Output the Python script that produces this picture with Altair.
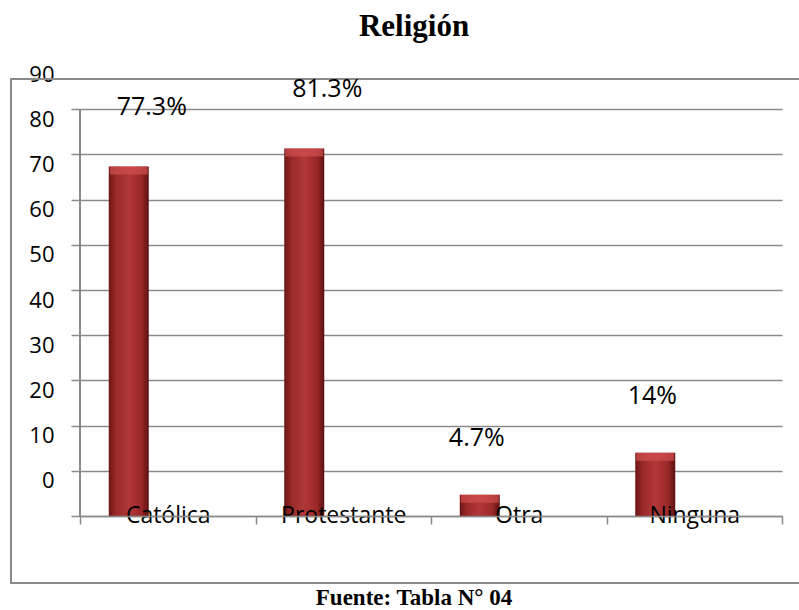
import altair as alt
import pandas as pd

categories = ["Católica", "Protestante", "Otra", "Ninguna"]
values = [77.3, 81.3, 4.7, 14.0]
labels = ["77.3%", "81.3%", "4.7%", "14%"]
y_ticks = [0, 10, 20, 30, 40, 50, 60, 70, 80, 90, 100]

df = pd.DataFrame({"cat": categories, "val": values, "lab": labels})

GRAY = "#8a8a8a"
FONT = "Open Sans"

x_enc = alt.X(
    "cat:N",
    sort=categories,
    scale=alt.Scale(paddingInner=0, paddingOuter=0),
    axis=alt.Axis(
        title=None, labelAngle=0, tickBand="extent", tickSize=8,
        domainColor=GRAY, tickColor=GRAY, domainWidth=1.5, tickWidth=1.5,
        labelFont=FONT, labelFontSize=23, labelColor="black",
        labelBaseline="alphabetic", labelPadding=-2, zindex=1,
    ),
)
y_scale = alt.Scale(domain=[0, 100], nice=False, zero=True)

gradient = alt.Gradient(
    gradient="linear", x1=0, x2=1, y1=0, y2=0,
    stops=[
        alt.GradientStop(color="#6a1515", offset=0),
        alt.GradientStop(color="#9a2a2a", offset=0.18),
        alt.GradientStop(color="#b03838", offset=0.5),
        alt.GradientStop(color="#9a2828", offset=0.82),
        alt.GradientStop(color="#5a1010", offset=1),
    ],
)

base = alt.Chart(df)

bars = base.mark_bar(size=40, xOffset=-39, fill=gradient).encode(
    x=x_enc,
    y=alt.Y(
        "val:Q", scale=y_scale,
        axis=alt.Axis(
            title=None, values=y_ticks,
            labelExpr="datum.value < 10 ? '' : '' + (datum.value - 10)",
            labelOffset=10, labelPadding=17, tickSize=9,
            labelFont=FONT, labelFontSize=22, labelColor="black",
            domain=False,
            grid=True, gridWidth=1.5,
            gridColor={"condition": {"test": "datum.value >= 100", "value": "transparent"}, "value": GRAY},
            tickColor={"condition": {"test": "datum.value >= 100", "value": "transparent"}, "value": GRAY},
            tickWidth=1.5,
        ),
    ),
)

caps = base.mark_tick(size=38, thickness=8, xOffset=-39, yOffset=4, color="#d25050").encode(
    x=alt.X("cat:N", sort=categories),
    y=alt.Y("val:Q", scale=y_scale),
)

lab1 = base.transform_filter(
    alt.FieldOneOfPredicate(field="cat", oneOf=categories[:2])
).mark_text(dx=-16, dy=-60, font=FONT, fontSize=25, color="black", baseline="middle").encode(
    x=alt.X("cat:N", sort=categories), y=alt.Y("val:Q", scale=y_scale), text="lab:N"
)
lab2 = base.transform_filter(
    alt.FieldOneOfPredicate(field="cat", oneOf=categories[2:])
).mark_text(dx=-42, dy=-57, font=FONT, fontSize=25, color="black", baseline="middle").encode(
    x=alt.X("cat:N", sort=categories), y=alt.Y("val:Q", scale=y_scale), text="lab:N"
)

yline = base.mark_rule(color=GRAY, strokeWidth=1.5).encode(
    x=alt.value(0), y=alt.datum(0), y2=alt.datum(90)
)

one = alt.Chart(pd.DataFrame({"a": [0]}))
border = one.mark_rect(fill="transparent", stroke=GRAY, strokeWidth=2).encode(
    x=alt.value(-69), x2=alt.value(740), y=alt.value(15), y2=alt.value(519)
)
title = one.mark_text(font="Liberation Serif", fontSize=31, fontWeight="bold",
                      color="black", baseline="alphabetic", align="center").encode(
    x=alt.value(334), y=alt.value(-28), text=alt.value("Religión")
)
footer = one.mark_text(font="Liberation Serif", fontSize=23, fontWeight="bold",
                       color="black", baseline="alphabetic", align="center").encode(
    x=alt.value(334), y=alt.value(541), text=alt.value("Fuente: Tabla N° 04")
)

chart = alt.layer(border, bars, caps, yline, lab1, lab2, title, footer).properties(
    width=702, height=452,
    autosize=alt.AutoSizeParams(type="none"),
    padding={"left": 80, "top": 64, "right": 17, "bottom": 94},
    background="white",
).configure_view(strokeWidth=0)

chart.save("out.html", embed_options={"renderer": "svg", "actions": False})
